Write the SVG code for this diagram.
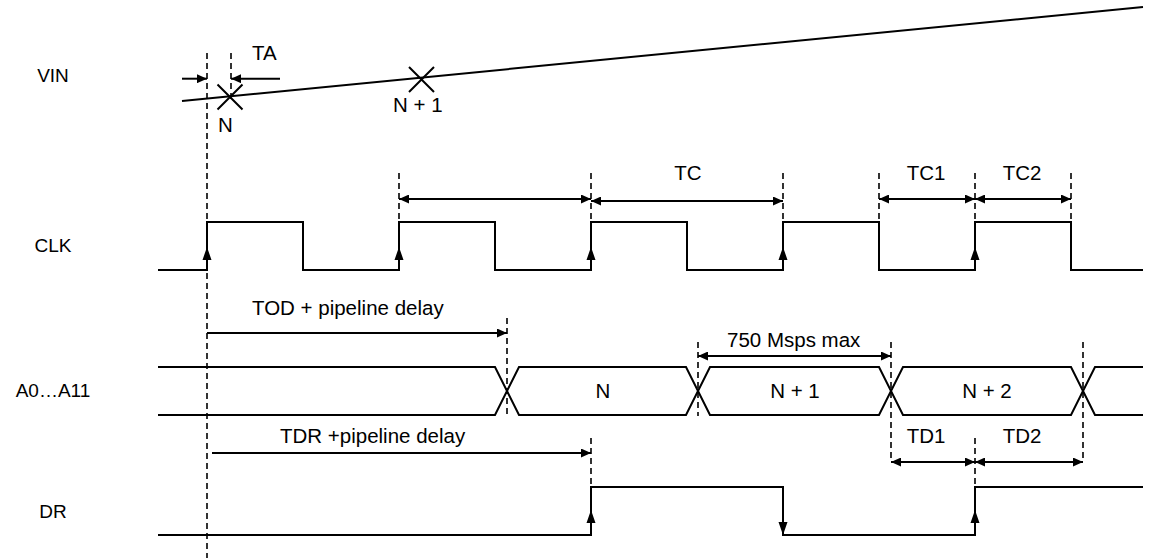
<svg xmlns="http://www.w3.org/2000/svg" width="1153" height="558" viewBox="0 0 1153 558">
<style>
.sig{fill:none;stroke:#000;stroke-width:2}
.dash{fill:none;stroke:#000;stroke-width:1.6;stroke-dasharray:6 4}
.dim{fill:none;stroke:#000;stroke-width:2}
.head{fill:#000;stroke:none}
text{font-family:"Liberation Sans",Arial,sans-serif;font-size:20.5px;fill:#000}
.lbl{font-size:19px;text-anchor:middle}
.mid{text-anchor:middle}
</style>
<defs>
<marker id="ah" viewBox="0 0 10 9" refX="10" refY="4.5" markerWidth="10" markerHeight="9" markerUnits="userSpaceOnUse" orient="auto-start-reverse">
<path d="M0,0 L10,4.5 L0,9 Z" fill="#000"/>
</marker>
</defs>
<rect width="1153" height="558" fill="#fff"/>
<g id="labels">
<text class="lbl" x="53" y="82">VIN</text>
<text class="lbl" x="53" y="252">CLK</text>
<text class="lbl" x="53" y="397">A0…A11</text>
<text class="lbl" x="53" y="518">DR</text>
</g>
<g id="vin">
<path class="sig" d="M182,101 L1143,7"/>
<path class="sig" d="M217.5,84.5 L242.5,109.5 M242.5,84.5 L217.5,109.5"/>
<path class="sig" d="M409,67 L434,92 M434,67 L409,92"/>
<text x="218" y="132">N</text>
<text x="393" y="112">N + 1</text>
<text x="252" y="60">TA</text>
</g>
<g id="clk">
<path class="sig" d="M158,270 H207 V222 H303 V270 H399 V222 H495 V270 H591 V222 H687 V270 H783 V222 H879 V270 H975 V222 H1071 V270 H1143"/>
<path class="head" d="M207,247 L202.5,260 L211.5,260 Z M399,247 L394.5,260 L403.5,260 Z M591,247 L586.5,260 L595.5,260 Z M783,247 L778.5,260 L787.5,260 Z M975,247 L970.5,260 L979.5,260 Z"/>
<text class="mid" x="688" y="180">TC</text>
<text class="mid" x="926" y="180">TC1</text>
<text class="mid" x="1022" y="180">TC2</text>
</g>
<g id="bus">
<path class="sig" d="M158,367 H495 L519,415 H686 L710,367 H879 L903,415 H1071 L1095,367 H1143"/>
<path class="sig" d="M158,415 H495 L519,367 H686 L710,415 H879 L903,367 H1071 L1095,415 H1143"/>
<text class="mid" x="603" y="398">N</text>
<text class="mid" x="795" y="398">N + 1</text>
<text class="mid" x="987" y="398">N + 2</text>
<text x="252" y="315">TOD + pipeline delay</text>
<text x="727" y="347">750 Msps max</text>
</g>
<g id="dr">
<path class="sig" d="M158,535 H591 V487 H783 V535 H975 V487 H1143"/>
<path class="head" d="M591,510 L586.5,523 L595.5,523 Z M975,510 L970.5,523 L979.5,523 Z M783,535 L778.5,522 L787.5,522 Z"/>
<text x="280" y="443">TDR +pipeline delay</text>
<text class="mid" x="926" y="443">TD1</text>
<text class="mid" x="1022" y="443">TD2</text>
</g>
<g id="connectors">
<path class="dash" d="M207,53 V558 M231,53 V100 M399,173 V222 M591,173 V222 M783,173 V222 M879,173 V222 M975,173 V222 M1071,173 V222 M507,318 V415 M698,342 V416 M891,342 V460 M1083,342 V460 M591,438 V487 M975,438 V487"/>
<path class="dim" d="M182,78.7 H207" marker-end="url(#ah)"/>
<path class="dim" d="M280,78.7 H231" marker-end="url(#ah)"/>
<path class="dim" d="M399,199 H591" marker-start="url(#ah)" marker-end="url(#ah)"/>
<path class="dim" d="M591,201 H783" marker-start="url(#ah)" marker-end="url(#ah)"/>
<path class="dim" d="M879,199 H975" marker-start="url(#ah)" marker-end="url(#ah)"/>
<path class="dim" d="M975,199 H1071" marker-start="url(#ah)" marker-end="url(#ah)"/>
<path class="dim" d="M207,333 H507" marker-end="url(#ah)"/>
<path class="dim" d="M698,356 H891" marker-start="url(#ah)" marker-end="url(#ah)"/>
<path class="dim" d="M212,453 H591" marker-end="url(#ah)"/>
<path class="dim" d="M891,462 H975" marker-start="url(#ah)" marker-end="url(#ah)"/>
<path class="dim" d="M975,462 H1083" marker-start="url(#ah)" marker-end="url(#ah)"/>
</g>
</svg>
